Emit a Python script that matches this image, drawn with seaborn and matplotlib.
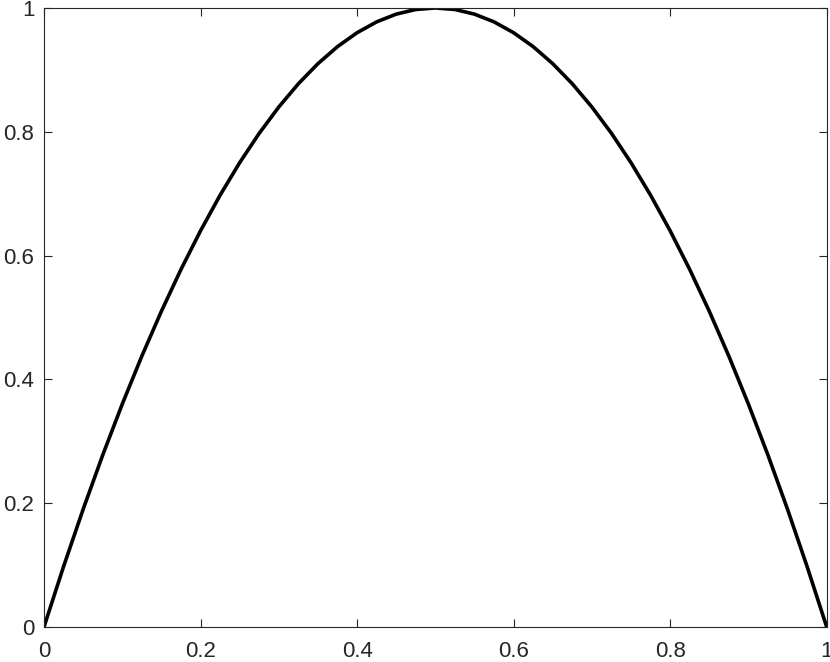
import numpy as np
import pandas as pd
import matplotlib
matplotlib.use("Agg")
import matplotlib.pyplot as plt
import seaborn as sns

# values
x_vals = [0.0, 0.025, 0.05, 0.075, 0.1, 0.125, 0.15, 0.175, 0.2, 0.225,
          0.25, 0.275, 0.3, 0.325, 0.35, 0.375, 0.4, 0.425, 0.45, 0.475,
          0.5, 0.525, 0.55, 0.575, 0.6, 0.625, 0.65, 0.675, 0.7, 0.725,
          0.75, 0.775, 0.8, 0.825, 0.85, 0.875, 0.9, 0.925, 0.95, 0.975, 1.0]
y_vals = [0.0, 0.0975, 0.19, 0.2775, 0.36, 0.4375, 0.51, 0.5775, 0.64, 0.6975,
          0.75, 0.7975, 0.84, 0.8775, 0.91, 0.9375, 0.96, 0.9775, 0.99, 0.9975,
          1.0, 0.9975, 0.99, 0.9775, 0.96, 0.9375, 0.91, 0.8775, 0.84, 0.7975,
          0.75, 0.6975, 0.64, 0.5775, 0.51, 0.4375, 0.36, 0.2775, 0.19, 0.0975, 0.0]
ticks = [0, 0.2, 0.4, 0.6, 0.8, 1]
tick_labels = ['0', '0.2', '0.4', '0.6', '0.8', '1']

df = pd.DataFrame({'x': x_vals, 'y': y_vals})

sns.set_theme(style="ticks")
plt.rcParams['font.family'] = ['Liberation Sans', 'DejaVu Sans']

fig = plt.figure(figsize=(8.3, 6.62), dpi=100)
ax = fig.add_axes([0.053, 0.053, 0.943, 0.935])
sns.lineplot(data=df, x='x', y='y', color='black', linewidth=2.6, ax=ax)

ax.set_xlim(0, 1)
ax.set_ylim(0, 1)
ax.set_xticks(ticks)
ax.set_xticklabels(tick_labels)
ax.set_yticks(ticks)
ax.set_yticklabels(tick_labels)
ax.set_xlabel('')
ax.set_ylabel('')
ax.tick_params(direction='in', top=True, right=True, length=6, width=0.8,
               labelsize=16, colors='#262626')
ax.tick_params(axis='x', pad=10)
ax.tick_params(axis='y', pad=7)
for s in ax.spines.values():
    s.set_visible(True)
    s.set_color('#262626')
    s.set_linewidth(0.8)

fig.savefig('out.png', dpi=100)
